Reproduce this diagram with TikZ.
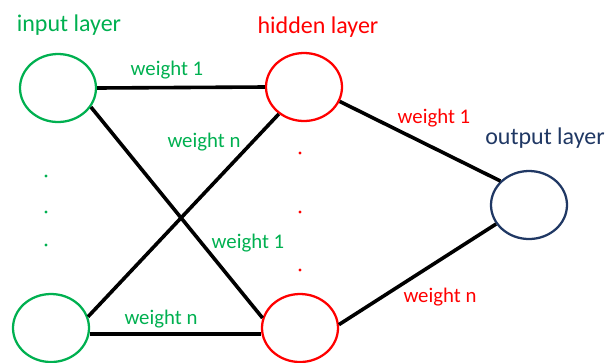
\documentclass[tikz,border=0pt]{standalone}
\usepackage{fontspec}
\setmainfont{Carlito}
\usetikzlibrary{shapes.geometric}

\definecolor{ingreen}{RGB}{0,176,80}
\definecolor{hidred}{RGB}{255,0,0}
\definecolor{outnavy}{RGB}{32,56,100}

\tikzset{
    neuron/.style={draw, ellipse, line width=1.7pt, minimum width=57pt, minimum height=51pt, inner sep=0pt},
    link/.style={black, line width=2.7pt},
    layername/.style={font=\fontsize{18}{20}\selectfont, inner sep=0pt},
    weightname/.style={font=\fontsize{15.6}{18}\selectfont, inner sep=0pt}
}

\begin{document}
\begin{tikzpicture}[x=0.75pt, y=-0.75pt]
        \useasboundingbox (0,0) rectangle (606,362);

        \node[neuron, ingreen] (in1) at (58,88) {};
        \node[neuron, ingreen] (inN) at (51,328) {};
        \node[neuron, hidred] (hid1) at (304,87) {};
        \node[neuron, hidred] (hidN) at (300,328) {};
        \node[neuron, outnavy] (out) at (529,205) {};

        \node[layername, ingreen] (inlabel) at (69,25) {input layer};
        \node[layername, hidred] (hidlabel) at (318,27) {hidden layer};
        \node[layername, outnavy] (outlabel) at (545,138) {output layer};

        \draw[link] (in1.east) -- (hid1.west);
        \draw[link] (in1.-30) -- (hidN.165);
        \draw[link] (inN.17) -- (hid1.-133);
        \draw[link] (inN.-9) -- (inN.-9 -| hidN.west);
        \draw[link] (hid1.-22) -- (out.140);
        \draw[link] (hidN.5) -- (out.-150);

        \node[weightname, ingreen] (w11) at (167,70) {weight 1};
        \node[weightname, ingreen] (w1n) at (204,142) {weight n};
        \node[weightname, ingreen] (wn1) at (248,243) {weight 1};
        \node[weightname, ingreen] (wnn) at (161,319) {weight n};
        \node[weightname, hidred] (h1o) at (434,118) {weight 1};
        \node[weightname, hidred] (hno) at (440,297) {weight n};

        \foreach \y in {176,212,245}
            \fill[ingreen] (46,\y) circle (1.3pt);
        \foreach \y in {153,212,270}
            \fill[hidred] (300,\y) circle (1.3pt);
    \end{tikzpicture}
\end{document}
